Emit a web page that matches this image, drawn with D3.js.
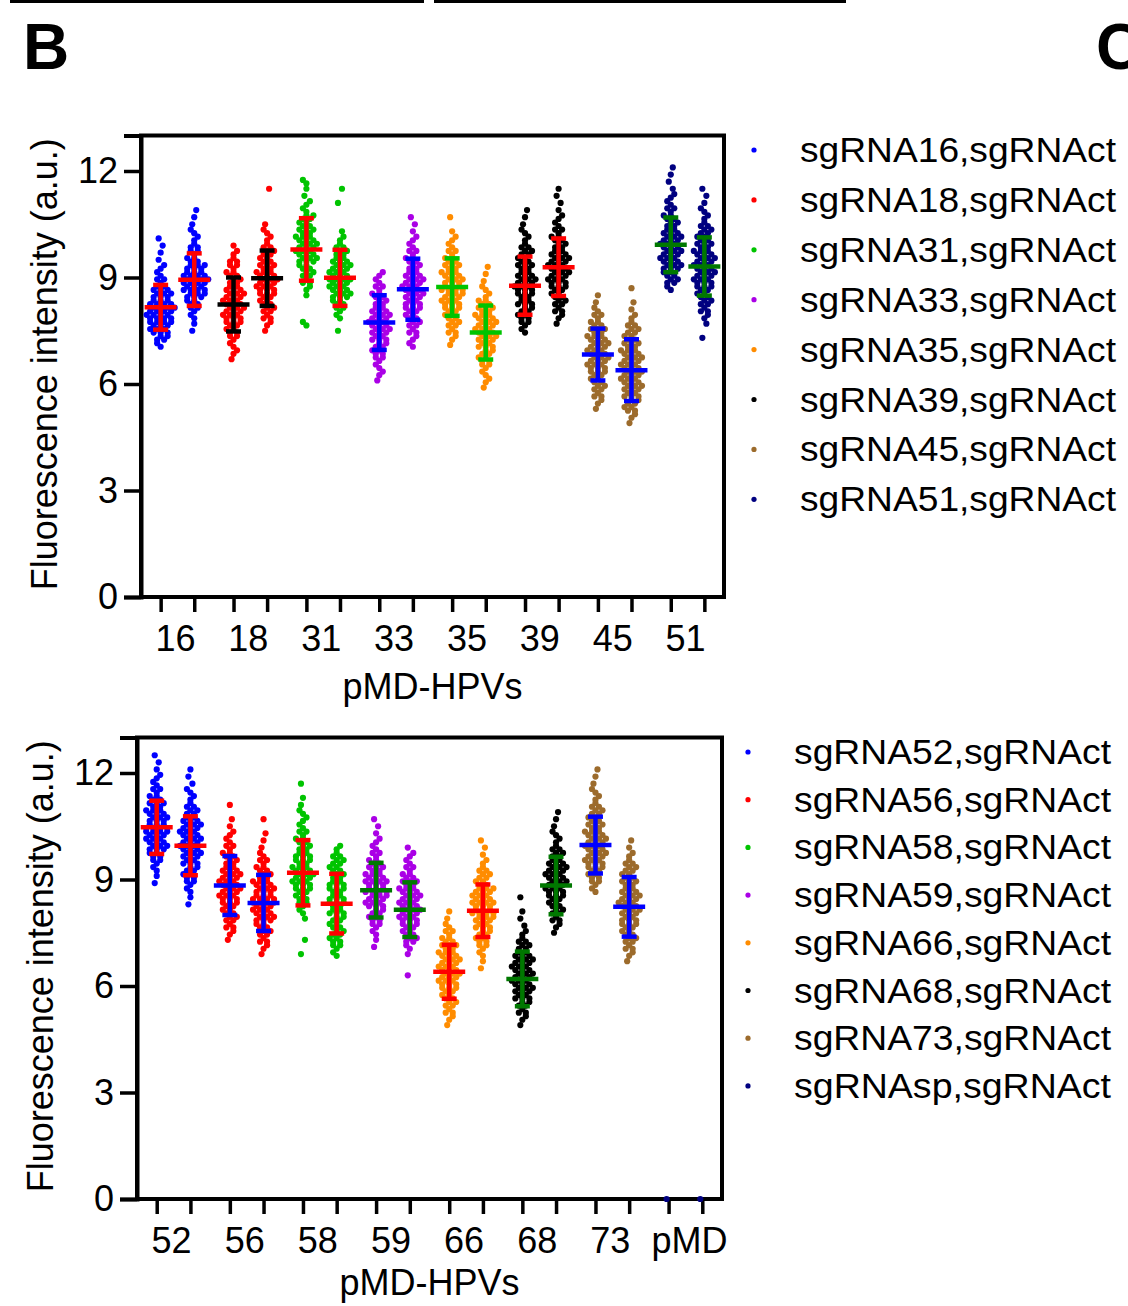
<!DOCTYPE html>
<html lang="en">
<head>
<meta charset="UTF-8">
<title>pMD-HPVs fluorescence</title>
<script src="https://d3js.org/d3.v7.min.js"></script>
<style>
  body { margin: 0; background: #fff; }
  text { font-family: "Liberation Sans", Arial, sans-serif; }
</style>
</head>
<body>
<svg id="chart" width="1128" height="1306"></svg>
<script>
// ---- data ----
const topGroups = ["16", "18", "31", "33", "35", "39", "45", "51"];
const topLegend = ["sgRNA16,sgRNAct", "sgRNA18,sgRNAct", "sgRNA31,sgRNAct", "sgRNA33,sgRNAct",
                   "sgRNA35,sgRNAct", "sgRNA39,sgRNAct", "sgRNA45,sgRNAct", "sgRNA51,sgRNAct"];
// two columns per group, mean and SD
const topMean = [8.16, 8.94, 8.24, 8.98, 9.79, 8.99, 7.73, 8.67, 8.73, 7.45, 8.77, 9.29, 6.83, 6.39, 9.92, 9.31];
const topSD   = [0.63, 0.74, 0.76, 0.78, 0.88, 0.79, 0.77, 0.86, 0.81, 0.76, 0.82, 0.81, 0.73, 0.87, 0.77, 0.82];
// points: lower edge of first 0.2-wide bin, then counts per bin
const topLo = [7.0, 7.4, 6.6, 7.4, 7.6, 7.4, 6.0, 7.0, 7.0, 5.8, 7.4, 7.6, 5.2, 4.8, 8.6, 7.2];
const topCounts = [
  [2, 4, 6, 7, 8, 8, 7, 6, 5, 3, 2, 2, 1, 1, 1, 1],
  [1, 1, 2, 3, 4, 6, 7, 8, 7, 6, 4, 3, 3, 2, 2, 1, 1, 1],
  [1, 2, 2, 3, 4, 5, 6, 6, 6, 6, 5, 4, 4, 3, 3, 2, 1],
  [1, 2, 3, 4, 4, 5, 6, 6, 6, 5, 4, 4, 3, 2, 2, 1, 0, 0, 0, 0, 1],
  [2, 0, 0, 0, 1, 2, 3, 4, 4, 6, 6, 6, 6, 5, 4, 4, 2, 2, 1, 1, 2],
  [1, 0, 2, 3, 4, 6, 6, 7, 6, 6, 5, 4, 3, 2, 1, 0, 0, 0, 1, 0, 1],
  [1, 2, 2, 3, 4, 4, 5, 6, 6, 6, 5, 4, 4, 3, 2, 2],
  [2, 2, 3, 4, 4, 5, 5, 6, 6, 6, 5, 4, 4, 3, 2, 2, 1, 1, 1],
  [1, 2, 3, 4, 4, 5, 6, 6, 7, 6, 6, 5, 4, 3, 2, 2, 1, 0, 1],
  [1, 2, 2, 3, 4, 4, 5, 6, 6, 6, 6, 5, 4, 2, 2, 1, 1, 1],
  [2, 3, 4, 4, 5, 5, 6, 6, 5, 5, 4, 4, 3, 2, 2, 1, 1, 1],
  [1, 2, 3, 4, 4, 5, 6, 6, 6, 6, 5, 4, 4, 3, 2, 2, 1, 1, 1, 1],
  [1, 2, 3, 4, 4, 5, 6, 6, 6, 6, 6, 5, 4, 3, 2, 1, 1],
  [1, 2, 4, 4, 5, 6, 6, 6, 6, 6, 6, 5, 4, 4, 3, 2, 1, 1, 0, 1],
  [2, 4, 4, 6, 6, 6, 6, 6, 5, 4, 4, 3, 2, 2, 1, 1, 1, 1],
  [1, 0, 1, 2, 3, 4, 4, 5, 6, 6, 6, 6, 6, 5, 4, 4, 3, 2, 2, 1, 1, 1]
];

const botGroups = ["52", "56", "58", "59", "66", "68", "73", "pMD"];
const botLegend = ["sgRNA52,sgRNAct", "sgRNA56,sgRNAct", "sgRNA58,sgRNAct", "sgRNA59,sgRNAct",
                   "sgRNA66,sgRNAct", "sgRNA68,sgRNAct", "sgRNA73,sgRNAct", "sgRNAsp,sgRNAct"];
const botMean = [10.47, 9.95, 8.83, 8.34, 9.19, 8.32, 8.70, 8.15, 6.40, 8.12, 6.20, 8.83, 9.97, 8.23, null, null];
const botSD   = [0.75, 0.83, 0.83, 0.79, 0.92, 0.84, 0.77, 0.77, 0.76, 0.74, 0.77, 0.81, 0.80, 0.84, null, null];
const botLo = [8.8, 8.2, 7.2, 6.8, 6.8, 6.8, 7.0, 6.2, 4.8, 6.4, 4.8, 7.4, 8.6, 6.6, -0.1, -0.1];
const botCounts = [
  [1, 1, 2, 3, 4, 6, 6, 7, 7, 6, 6, 5, 4, 3, 2, 2, 1, 1, 1],
  [1, 1, 2, 3, 4, 4, 5, 6, 6, 6, 6, 6, 5, 4, 3, 2, 2, 1, 1, 1],
  [1, 2, 3, 4, 4, 5, 6, 6, 6, 6, 5, 4, 4, 3, 2, 2, 1, 1, 0, 1],
  [1, 2, 3, 4, 4, 6, 6, 7, 7, 6, 6, 4, 4, 3, 2, 1, 1, 1, 0, 1],
  [1, 0, 1, 0, 0, 1, 2, 3, 4, 5, 6, 6, 6, 5, 5, 4, 4, 3, 2, 2, 2, 1, 1, 0, 1],
  [2, 3, 4, 4, 4, 4, 5, 5, 5, 5, 5, 4, 4, 4, 3, 2],
  [1, 1, 2, 3, 4, 4, 6, 6, 7, 7, 6, 5, 4, 3, 2, 2, 1, 1, 1],
  [1, 0, 0, 1, 2, 4, 4, 5, 6, 6, 6, 6, 6, 5, 4, 3, 2, 2, 1],
  [1, 2, 3, 4, 4, 5, 6, 6, 6, 6, 6, 5, 4, 3, 2, 1, 1],
  [1, 1, 2, 3, 4, 4, 5, 6, 7, 7, 6, 6, 4, 4, 3, 2, 1, 1, 1],
  [1, 2, 3, 4, 5, 6, 6, 6, 6, 6, 5, 4, 3, 2, 1, 1, 1, 0, 1],
  [1, 2, 3, 4, 4, 5, 6, 6, 6, 6, 5, 4, 3, 2, 2, 1, 1, 1],
  [2, 3, 4, 5, 6, 6, 6, 6, 6, 5, 4, 4, 3, 2, 2, 1, 1, 1],
  [1, 2, 3, 4, 4, 5, 5, 6, 6, 6, 5, 5, 4, 4, 3, 2, 1, 1],
  [1],
  [1]
];

const yTicks = [0, 3, 6, 9, 12];

// colours, one per group
const dotColor = ["#0000ff", "#ff0000", "#00c400", "#aa00e6", "#ff8c00", "#000000", "#9c6b2c", "#000080"];
const topBarColor = ["#ff0000", "#000000", "#ff0000", "#0000ff", "#00c400", "#ff0000", "#0000ff", "#007800"];
const botBarColor = ["#ff0000", "#0000ff", "#ff0000", "#007800", "#ff0000", "#007800", "#0000ff", "#007800"];

const svg = d3.select("#chart");

// header rules and panel letters
svg.append("line").attr("x1", 10).attr("x2", 424).attr("y1", 1.5).attr("y2", 1.5).attr("stroke", "#000").attr("stroke-width", 3);
svg.append("line").attr("x1", 434).attr("x2", 846).attr("y1", 1.5).attr("y2", 1.5).attr("stroke", "#000").attr("stroke-width", 3);
svg.append("text").attr("x", 23).attr("y", 69).attr("font-size", 64).attr("font-weight", "bold").text("B");
svg.append("text").attr("x", 1096).attr("y", 69).attr("font-size", 64).attr("font-weight", "bold").text("C");

function panel(cfg) {
  const g = svg.append("g");
  const x = d3.scaleBand().domain(cfg.groups).range([cfg.left, cfg.right]);
  const inner = d3.scalePoint().domain([0, 1]).range([0, x.bandwidth()]).padding(0.585);
  const y = d3.scaleLinear().domain([0, 13]).range([cfg.bottom, cfg.bottom - 13 * 35.5]);
  const colX = i => x(cfg.groups[Math.floor(i / 2)]) + inner(i % 2);
  const cols = d3.range(cfg.groups.length * 2);

  // frame
  g.append("rect")
    .attr("x", cfg.left).attr("y", y(13))
    .attr("width", cfg.right - cfg.left).attr("height", cfg.bottom - y(13))
    .attr("fill", "none").attr("stroke", "#000").attr("stroke-width", 4);

  // y axis
  const ya = g.append("g").attr("transform", `translate(${cfg.left},0)`)
    .call(d3.axisLeft(y).tickValues(yTicks).tickSize(17).tickPadding(6));
  ya.select(".domain").attr("stroke-width", 4);
  ya.selectAll(".tick line").attr("stroke-width", 3.5);
  ya.selectAll(".tick text").attr("font-size", 36).attr("fill", "#000").style("font-family", "Liberation Sans, Arial, sans-serif");

  // column ticks
  const colScale = d3.scaleOrdinal().domain(cols).range(cols.map(colX));
  const xa = g.append("g").attr("transform", `translate(0,${cfg.bottom})`)
    .call(d3.axisBottom(colScale).tickSize(15).tickFormat(""));
  xa.select(".domain").remove();
  xa.selectAll(".tick line").attr("stroke-width", 3.5);

  // group labels
  const la = g.append("g").attr("transform", `translate(0,${cfg.bottom})`)
    .call(d3.axisBottom(x).tickSize(0).tickPadding(28));
  la.select(".domain").remove();
  la.selectAll(".tick text").attr("font-size", 36).attr("fill", "#000").attr("dx", d => d === "pMD" ? 4 : -2)
    .style("font-family", "Liberation Sans, Arial, sans-serif");

  // axis titles
  g.append("text").attr("x", (cfg.left + cfg.right) / 2).attr("y", cfg.bottom + cfg.xTitleDy)
    .attr("text-anchor", "middle").attr("font-size", 36).text("pMD-HPVs");
  g.append("text").attr("transform", `translate(${cfg.titleX},${(cfg.bottom + y(13)) / 2 - 2}) rotate(-90)`)
    .attr("text-anchor", "middle").attr("font-size", 36).text("Fluorescence intensity (a.u.)");

  // points: each 0.2 bin laid out as two staggered rows
  const pts = [];
  cols.forEach(i => {
    cfg.counts[i].forEach((n, b) => {
      if (!n) return;
      const c = cfg.lo[i] + 0.2 * b + 0.1;
      if (n === 1) { pts.push({ i, v: c, dx: (b % 3 - 1) * 2 }); return; }
      const big = Math.ceil(n / 2), small = Math.floor(n / 2);
      const lowFirst = b % 2 === 0;
      const rows = [[lowFirst ? big : small, c - 0.05], [lowFirst ? small : big, c + 0.05]];
      const shift = big % 2 === small % 2 ? (b % 2 ? 3.5 : -3.5) : 0;
      rows.forEach(([k, v], r) => {
        for (let j = 0; j < k; j++) {
          pts.push({ i, v, dx: (j - (k - 1) / 2) * 7 + (r ? shift : 0) });
        }
      });
    });
  });
  g.append("g").selectAll("circle").data(pts).join("circle")
    .attr("cx", d => colX(d.i) + d.dx)
    .attr("cy", d => y(Math.max(d.v, 0)))
    .attr("r", 3.1)
    .attr("fill", d => dotColor[Math.floor(d.i / 2)]);

  // mean +/- SD bars
  const bars = cols.filter(i => cfg.mean[i] != null);
  const eb = g.append("g").selectAll("g").data(bars).join("g")
    .attr("stroke", i => cfg.barColor[Math.floor(i / 2)]).attr("stroke-width", 4.5);
  eb.append("line").attr("x1", i => colX(i)).attr("x2", i => colX(i))
    .attr("y1", i => y(cfg.mean[i] - cfg.sd[i])).attr("y2", i => y(cfg.mean[i] + cfg.sd[i]));
  eb.append("line").attr("x1", i => colX(i) - 16).attr("x2", i => colX(i) + 16)
    .attr("y1", i => y(cfg.mean[i])).attr("y2", i => y(cfg.mean[i]));
  [-1, 1].forEach(s => {
    eb.append("line").attr("x1", i => colX(i) - 7.5).attr("x2", i => colX(i) + 7.5)
      .attr("y1", i => y(cfg.mean[i] + s * cfg.sd[i])).attr("y2", i => y(cfg.mean[i] + s * cfg.sd[i]));
  });

  // legend
  const lg = g.append("g").selectAll("g").data(cfg.legend).join("g")
    .attr("transform", (d, k) => `translate(0,${cfg.legendY + k * cfg.legendStep})`);
  lg.append("circle").attr("cx", cfg.legendX).attr("cy", 0).attr("r", 2.6).attr("fill", (d, k) => dotColor[k]);
  lg.append("text").attr("x", cfg.legendX + 46).attr("y", 12).attr("font-size", 35)
    .attr("textLength", cfg.legendW).attr("lengthAdjust", "spacingAndGlyphs").text(d => d);
}

panel({ groups: topGroups, legend: topLegend, mean: topMean, sd: topSD, lo: topLo, counts: topCounts,
        barColor: topBarColor, left: 141, right: 724, bottom: 597, titleX: 57, xTitleDy: 102,
        legendX: 754, legendY: 150, legendStep: 49.9, legendW: 316 });
panel({ groups: botGroups, legend: botLegend, mean: botMean, sd: botSD, lo: botLo, counts: botCounts,
        barColor: botBarColor, left: 137, right: 722, bottom: 1199, titleX: 53, xTitleDy: 96,
        legendX: 748, legendY: 752, legendStep: 47.7, legendW: 317 });
</script>
</body>
</html>
